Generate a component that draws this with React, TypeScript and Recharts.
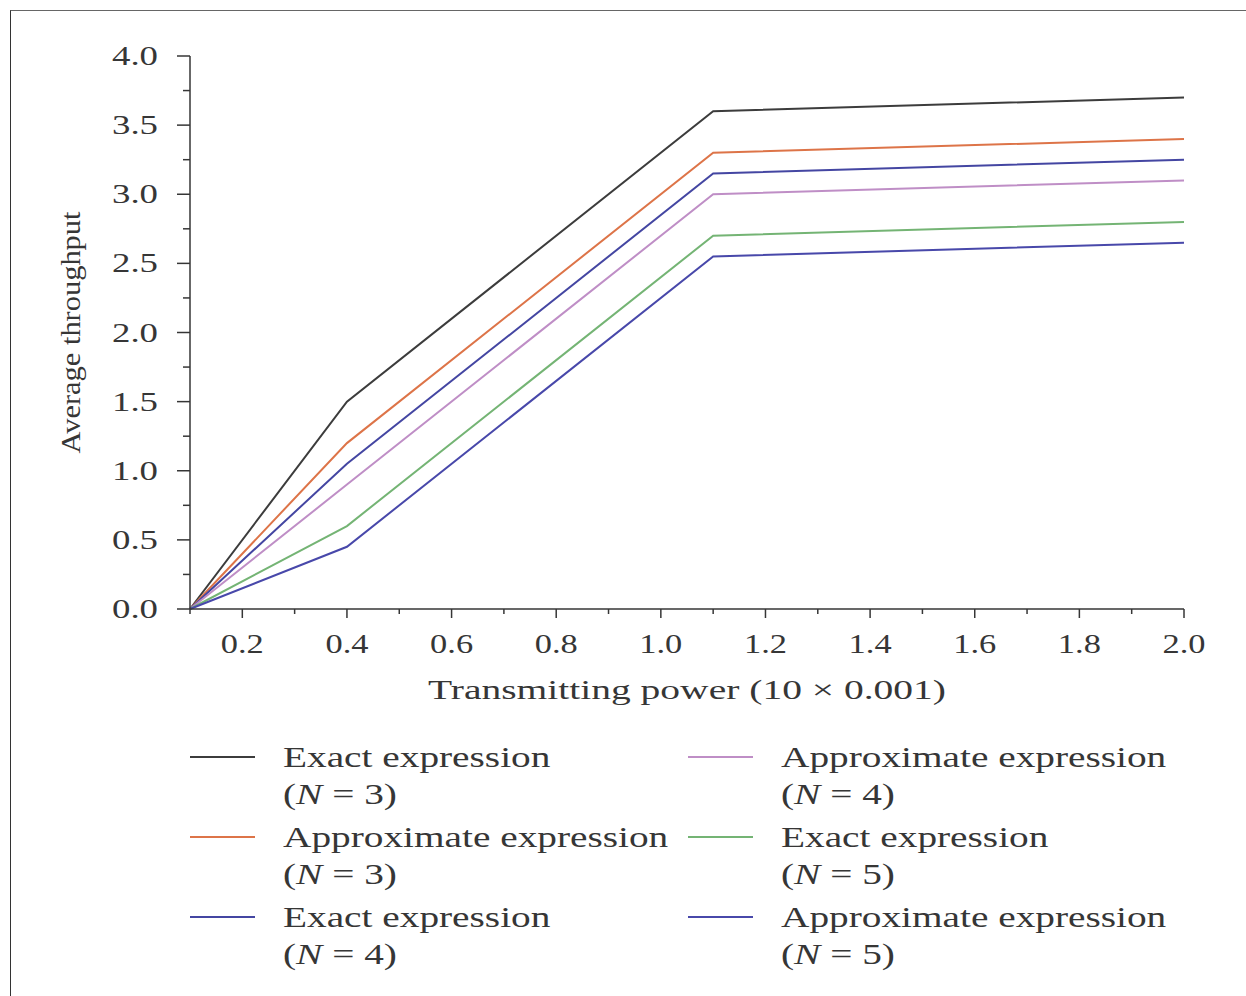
import React from 'react';
import { LineChart, Line, XAxis, YAxis, Legend } from 'recharts';

// transmitting power (10 x 0.001)
const power = [0.1, 0.4, 1.1, 2.0];

const exactN3 = [0, 1.5, 3.6, 3.7];
const approxN3 = [0, 1.2, 3.3, 3.4];
const exactN4 = [0, 1.05, 3.15, 3.25];
const approxN4 = [0, 0.9, 3.0, 3.1];
const exactN5 = [0, 0.6, 2.7, 2.8];
const approxN5 = [0, 0.45, 2.55, 2.65];

const xTicks = [0.1, 0.2, 0.3, 0.4, 0.5, 0.6, 0.7, 0.8, 0.9, 1.0, 1.1, 1.2, 1.3, 1.4, 1.5, 1.6, 1.7, 1.8, 1.9, 2.0];
const yTicks = [0, 0.25, 0.5, 0.75, 1.0, 1.25, 1.5, 1.75, 2.0, 2.25, 2.5, 2.75, 3.0, 3.25, 3.5, 3.75, 4.0];

const series = [
    { key: 'exactN3', name: 'Exact expression', n: 3, color: '#3c3c3c', values: exactN3 },
    { key: 'approxN3', name: 'Approximate expression', n: 3, color: '#dd7448', values: approxN3 },
    { key: 'exactN4', name: 'Exact expression', n: 4, color: '#4446a2', values: exactN4 },
    { key: 'approxN4', name: 'Approximate expression', n: 4, color: '#bf8ec6', values: approxN4 },
    { key: 'exactN5', name: 'Exact expression', n: 5, color: '#74b474', values: exactN5 },
    { key: 'approxN5', name: 'Approximate expression', n: 5, color: '#4848aa', values: approxN5 },
];

const chartData = power.map((x, i) => {
    const point: any = { x };
    series.forEach(s => { point[s.key] = s.values[i]; });
    return point;
});

const FONT = '"Liberation Serif", "DejaVu Serif", serif';
const INK = '#363636';

// the source figure's type is wide, so glyphs get stretched rather than spaced
function XTick(props: any) {
    const { x, y, payload } = props;
    const v = payload.value;
    const major = Math.round(v * 10) % 2 === 0;
    return (
        <g>
            <line x1={x} x2={x} y1={y} y2={y + (major ? 9 : 5)} stroke={INK} strokeWidth={1.5} />
            {major && (
                <text x={x} y={y + 44} textAnchor="middle" fontFamily={FONT} fontSize={27}
                    textLength={43} lengthAdjust="spacingAndGlyphs" fill={INK}>
                    {v.toFixed(1)}
                </text>
            )}
        </g>
    );
}

function YTick(props: any) {
    const { x, y, payload } = props;
    const v = payload.value;
    const major = Math.round(v * 100) % 50 === 0;
    return (
        <g>
            <line x1={x - (major ? 13 : 7)} x2={x} y1={y} y2={y} stroke={INK} strokeWidth={1.5} />
            {major && (
                <text x={x - 32} y={y + 9} textAnchor="end" fontFamily={FONT} fontSize={27}
                    textLength={46} lengthAdjust="spacingAndGlyphs" fill={INK}>
                    {v.toFixed(1)}
                </text>
            )}
        </g>
    );
}

function XLabel(props: any) {
    const vb = props.viewBox || { x: 190, y: 609, width: 994, height: 100 };
    const cx = vb.x + vb.width / 2;
    return (
        <text x={cx} y={vb.y + 90} textAnchor="middle" fontFamily={FONT} fontSize={28}
            textLength={518} lengthAdjust="spacingAndGlyphs" fill={INK}>
            Transmitting power (10 × 0.001)
        </text>
    );
}

function YLabel(props: any) {
    const vb = props.viewBox || { x: 0, y: 56, width: 190, height: 553 };
    const cy = vb.y + vb.height / 2;
    const cx = vb.x + 70;
    return (
        <text x={cx} y={cy} transform={`rotate(-90 ${cx} ${cy})`} textAnchor="middle" dominantBaseline="central"
            fontFamily={FONT} fontSize={28} textLength={242} lengthAdjust="spacingAndGlyphs" fill={INK}>
            Average throughput
        </text>
    );
}

function LegendBox() {
    return (
        <div style={{
            display: 'grid', gridTemplateColumns: '498px 498px', gridTemplateRows: '80px 80px 80px',
            gridAutoFlow: 'column', fontFamily: FONT, fontSize: 30, color: INK,
        }}>
            {series.map(s => (
                <div key={s.key} style={{ position: 'relative' }}>
                    <div style={{ position: 'absolute', left: 0, top: 21, width: 65, height: 2, background: s.color }} />
                    <div style={{
                        position: 'absolute', left: 93, top: 3, lineHeight: '37px', whiteSpace: 'nowrap',
                        transform: 'scaleX(1.31)', transformOrigin: 'left top',
                    }}>
                        <div>{s.name}</div>
                        <div>(<i>N</i> = {s.n})</div>
                    </div>
                </div>
            ))}
        </div>
    );
}

export default function App() {
    return (
        <div style={{ position: 'absolute', left: 0, top: 0, width: 1246, height: 996, background: '#fff', overflow: 'hidden' }}>
            <div style={{ position: 'absolute', left: 10, top: 10, width: 1300, height: 1100, borderLeft: '1.5px solid #333', borderTop: '1.5px solid #666' }} />
            <LineChart width={1246} height={990} data={chartData} margin={{ top: 56, right: 62, left: 0, bottom: 281 }}>
                <XAxis
                    dataKey="x"
                    type="number"
                    domain={[0.1, 2.0]}
                    ticks={xTicks}
                    interval={0}
                    height={100}
                    tickSize={0}
                    tickMargin={0}
                    tickLine={false}
                    tick={<XTick />}
                    stroke={INK}
                    strokeWidth={1.5}
                    label={<XLabel />}
                />
                <YAxis
                    type="number"
                    domain={[0, 4]}
                    ticks={yTicks}
                    interval={0}
                    width={190}
                    tickSize={0}
                    tickMargin={0}
                    tickLine={false}
                    tick={<YTick />}
                    stroke={INK}
                    strokeWidth={1.5}
                    label={<YLabel />}
                />
                <Legend
                    layout="vertical"
                    align="center"
                    verticalAlign="middle"
                    wrapperStyle={{ top: 735, left: 190, width: 1000 }}
                    content={() => <LegendBox />}
                />
                {series.map(s => (
                    <Line
                        key={s.key}
                        type="linear"
                        dataKey={s.key}
                        name={s.name}
                        stroke={s.color}
                        strokeWidth={2}
                        dot={false}
                        activeDot={false}
                        isAnimationActive={false}
                    />
                ))}
            </LineChart>
        </div>
    );
}
